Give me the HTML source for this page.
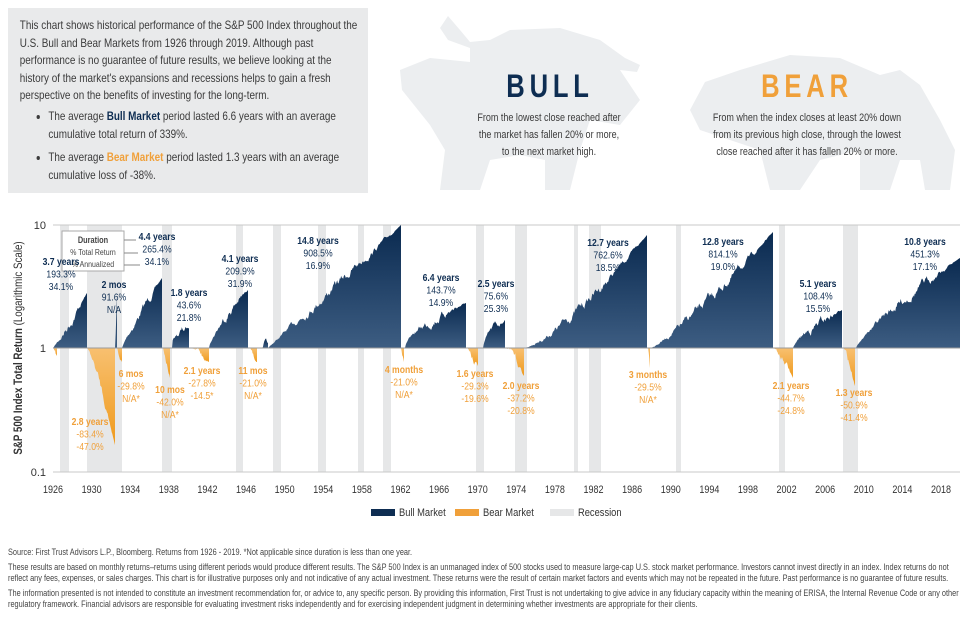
<!DOCTYPE html>
<html><head><meta charset="utf-8">
<style>
body{margin:0;width:974px;height:625px;background:#fff;font-family:"Liberation Sans",sans-serif;position:relative;overflow:hidden;color:#3b3b3b}
.box{position:absolute;left:8px;top:8px;width:360px;height:185px;background:#e9eaeb;overflow:hidden}
.inner{transform:scaleX(0.84);transform-origin:0 0;width:428px}
.box p{margin:9px 6px 0 14px;font-size:11.8px;line-height:17.6px}
.box ul{margin:3px 0 0 0;padding-left:48px;font-size:11.8px;line-height:17.6px}
.box li{margin-bottom:6px}
.foot{position:absolute;left:8px;top:547px;width:1175px;font-size:9px;line-height:11px;color:#444;transform:scaleX(0.817);transform-origin:0 0}
.foot div{margin-bottom:4px}
</style></head><body>
<svg width="974" height="625" style="position:absolute;left:0;top:0">
<path fill="#eceef0" d="M440,190 L445,150 L430,125 L402,90 L400,70 L430,58 L470,62 L470,48 L448,40 L440,28 L448,16 L460,30 L470,42 L490,40 L510,30 L560,28 L600,40 L625,58 L640,65 L637,72 L620,70 L640,100 L620,125 L590,120 L580,150 L570,190 L545,190 L545,160 L520,155 L490,160 L480,190 Z"/>
<path fill="#eceef0" d="M690,110 L705,82 L740,70 L790,55 L840,58 L880,75 L900,70 L920,85 L940,120 L955,150 L950,190 L925,190 L920,160 L900,160 L890,190 L860,190 L860,150 L820,160 L800,190 L770,190 L760,150 L730,140 L700,130 Z"/>
<text transform="translate(550,97) scale(0.8,1)" text-anchor="middle" font-size="32" font-weight="bold" fill="#0e2d52" letter-spacing="6">BULL</text>
<text transform="translate(807,97) scale(0.8,1)" text-anchor="middle" font-size="32" font-weight="bold" fill="#f0a03a" letter-spacing="6">BEAR</text>
<g id="desc" font-size="11" fill="#3b3b3b" text-anchor="middle"></g>
<g id="rec" fill="#e6e7e8"></g>
<line x1="53" y1="225" x2="960" y2="225" stroke="#c8c8c8"/>
<line x1="53" y1="472" x2="960" y2="472" stroke="#c8c8c8"/>
<defs>
<linearGradient id="gb" x1="0" y1="0" x2="0" y2="1"><stop offset="0" stop-color="#0a2a50"/><stop offset="1" stop-color="#3d5d82"/></linearGradient>
<linearGradient id="go" x1="0" y1="0" x2="0" y2="1"><stop offset="0" stop-color="#f8c070"/><stop offset="1" stop-color="#ef9a1c"/></linearGradient>
</defs>
<g id="ser"></g>
<line x1="53" y1="348" x2="960" y2="348" stroke="#9a9a9a" stroke-width="1"/>
<g font-size="11" fill="#333">
<text x="46" y="229" text-anchor="end">10</text>
<text x="46" y="352" text-anchor="end">1</text>
<text x="46" y="476" text-anchor="end">0.1</text>
</g>
<text transform="translate(22,348) rotate(-90) scale(0.85,1)" text-anchor="middle" font-size="11.5" fill="#333"><tspan font-weight="bold">S&amp;P 500 Index Total Return</tspan> (Logarithmic Scale)</text>
<g id="xl" font-size="11" fill="#333" text-anchor="middle"></g>
<rect x="62" y="231" width="62" height="40" fill="#fff" stroke="#aaa"/>
<g id="key" font-size="8.5" fill="#444" text-anchor="middle"></g>
<g stroke="#888"><line x1="124" y1="240" x2="136" y2="240"/><line x1="124" y1="253" x2="138" y2="253"/><line x1="124" y1="265" x2="140" y2="265"/></g>
<g id="lab" text-anchor="middle" font-size="10.5"></g>
<rect x="371" y="509" width="24" height="7" fill="#0e2d52"/>
<text transform="translate(399,516) scale(0.85,1)" font-size="11" fill="#333">Bull Market</text>
<rect x="455" y="509" width="24" height="7" fill="#f0a03a"/>
<text transform="translate(483,516) scale(0.85,1)" font-size="11" fill="#333">Bear Market</text>
<rect x="550" y="509" width="24" height="7" fill="#e6e7e8"/>
<text transform="translate(578,516) scale(0.85,1)" font-size="11" fill="#333">Recession</text>
</svg>
<div class="box"><div class="inner">
<p>This chart shows historical performance of the S&amp;P 500 Index throughout the U.S. Bull and Bear Markets from 1926 through 2019. Although past performance is no guarantee of future results, we believe looking at the history of the market's expansions and recessions helps to gain a fresh perspective on the benefits of investing for the long-term.</p>
<ul><li>The average <b style="color:#0e2d52">Bull Market</b> period lasted 6.6 years with an average cumulative total return of 339%.</li>
<li>The average <b style="color:#f0a03a">Bear Market</b> period lasted 1.3 years with an average cumulative loss of -38%.</li></ul>
</div></div>
<div class="foot">
<div>Source: First Trust Advisors L.P., Bloomberg. Returns from 1926 - 2019. *Not applicable since duration is less than one year.</div>
<div>These results are based on monthly returns–returns using different periods would produce different results. The S&amp;P 500 Index is an unmanaged index of 500 stocks used to measure large-cap U.S. stock market performance. Investors cannot invest directly in an index. Index returns do not reflect any fees, expenses, or sales charges. This chart is for illustrative purposes only and not indicative of any actual investment. These returns were the result of certain market factors and events which may not be repeated in the future. Past performance is no guarantee of future results.</div>
<div>The information presented is not intended to constitute an investment recommendation for, or advice to, any specific person. By providing this information, First Trust is not undertaking to give advice in any fiduciary capacity within the meaning of ERISA, the Internal Revenue Code or any other regulatory framework. Financial advisors are responsible for evaluating investment risks independently and for exercising independent judgment in determining whether investments are appropriate for their clients.</div>
</div>
<script>
var NS="http://www.w3.org/2000/svg";
function el(p,t,a,txt){var e=document.createElementNS(NS,t);for(var k in a)e.setAttribute(k,a[k]);if(txt!=null)e.textContent=txt;document.getElementById(p).appendChild(e);return e;}
function tx(p,x,y,s,a){a=a||{};a.transform="translate("+x+","+y+") scale(0.82,1)";return el(p,"text",a,s);}
[["From the lowest close reached after",549,121],["the market has fallen 20% or more,",549,138],["to the next market high.",549,155],["From when the index closes at least 20% down",807,121],["from its previous high close, through the lowest",807,138],["close reached after it has fallen 20% or more.",807,155]].forEach(function(d){tx("desc",d[1],d[2],d[0]);});
tx("key",93,243,"Duration",{"font-weight":"bold","font-size":"9"});tx("key",93,255,"% Total Return");tx("key",93,267,"% Annualized");
[[60,69],[87,122],[162,172],[236,243],[273,281],[318,326],[358,364],[383,391],[476,484],[515,527],[574,578],[589,601],[676,681],[779,785],[843,858]].forEach(function(r){el("rec","rect",{x:r[0],y:225,width:r[1]-r[0],height:247});});
for(var y=1926;y<=2018;y+=4){tx("xl",53+(y-1926)*9.652,493,y);}
var seed=7;function rnd(){seed=(seed*16807)%2147483647;return seed/2147483647;}
function area(x0,x1,yEnd,fill,wig,pw){
 var d="M"+x0+",348";var n=Math.max(2,Math.round((x1-x0)*1.5));var w=0;
 for(var i=0;i<=n;i++){var t=i/n;var x=x0+(x1-x0)*t;
  var base=348+(yEnd-348)*Math.pow(t,pw);w=w*0.85+(rnd()-0.5)*wig;var ww=(i==n||i==0)?0:w*Math.sin(Math.PI*t);
  var yy=base+ww; if(fill=="url(#gb)"){if(yy>348)yy=348;}else{if(yy<348)yy=348;}
  d+=" L"+x.toFixed(1)+","+yy.toFixed(1);}
 d+=" L"+x1+",348Z";el("ser","path",{d:d,fill:fill});}
var bulls=[[53,87,293,1.1],[115,117,296,1],[122,162,278,0.9],[172,189,328,0.3],[209,248,290,0.7],[259,268,343,1],[268,401,225,1.0],[405,466,303,0.6],[483,505,320,0.6],[525,647,235,1.3],[650,773,232,1.2],[793,842,310,0.7],[856,960,258,0.8]];
bulls.forEach(function(b){area(b[0],b[1],b[2],"url(#gb)",6,b[3]);});
var bears=[[53,57,356],[87,115,445],[117,122,362],[163,170,378],[190,209,362],[250,257,362],[401,404,362],[467,478,366],[506,524,376],[648,650,368],[773,793,378],[843,855,386]];
bears.forEach(function(b){area(b[0],b[1],b[2],"url(#go)",6,1.3);});
var B="#0e2d52",O="#f0a03a";
var labs=[[61,265,"3.7 years","193.3%","34.1%",B],[157,240,"4.4 years","265.4%","34.1%",B],[114,288,"2 mos","91.6%","N/A",B],[189,296,"1.8 years","43.6%","21.8%",B],[240,262,"4.1 years","209.9%","31.9%",B],[318,244,"14.8 years","908.5%","16.9%",B],[441,281,"6.4 years","143.7%","14.9%",B],[496,287,"2.5 years","75.6%","25.3%",B],[608,246,"12.7 years","762.6%","18.5%",B],[723,245,"12.8 years","814.1%","19.0%",B],[818,287,"5.1 years","108.4%","15.5%",B],[925,245,"10.8 years","451.3%","17.1%",B],
[90,425,"2.8 years","-83.4%","-47.0%",O],[131,377,"6 mos","-29.8%","N/A*",O],[170,393,"10 mos","-42.0%","N/A*",O],[202,374,"2.1 years","-27.8%","-14.5*",O],[253,374,"11 mos","-21.0%","N/A*",O],[404,373,"4 months","-21.0%","N/A*",O],[475,377,"1.6 years","-29.3%","-19.6%",O],[521,389,"2.0 years","-37.2%","-20.8%",O],[648,378,"3 months","-29.5%","N/A*",O],[791,389,"2.1 years","-44.7%","-24.8%",O],[854,396,"1.3 years","-50.9%","-41.4%",O]];
labs.forEach(function(l){tx("lab",l[0],l[1],l[2],{fill:l[5],"font-weight":"bold"});tx("lab",l[0],l[1]+12.5,l[3],{fill:l[5]});tx("lab",l[0],l[1]+25,l[4],{fill:l[5]});});
</script>
</body></html>
